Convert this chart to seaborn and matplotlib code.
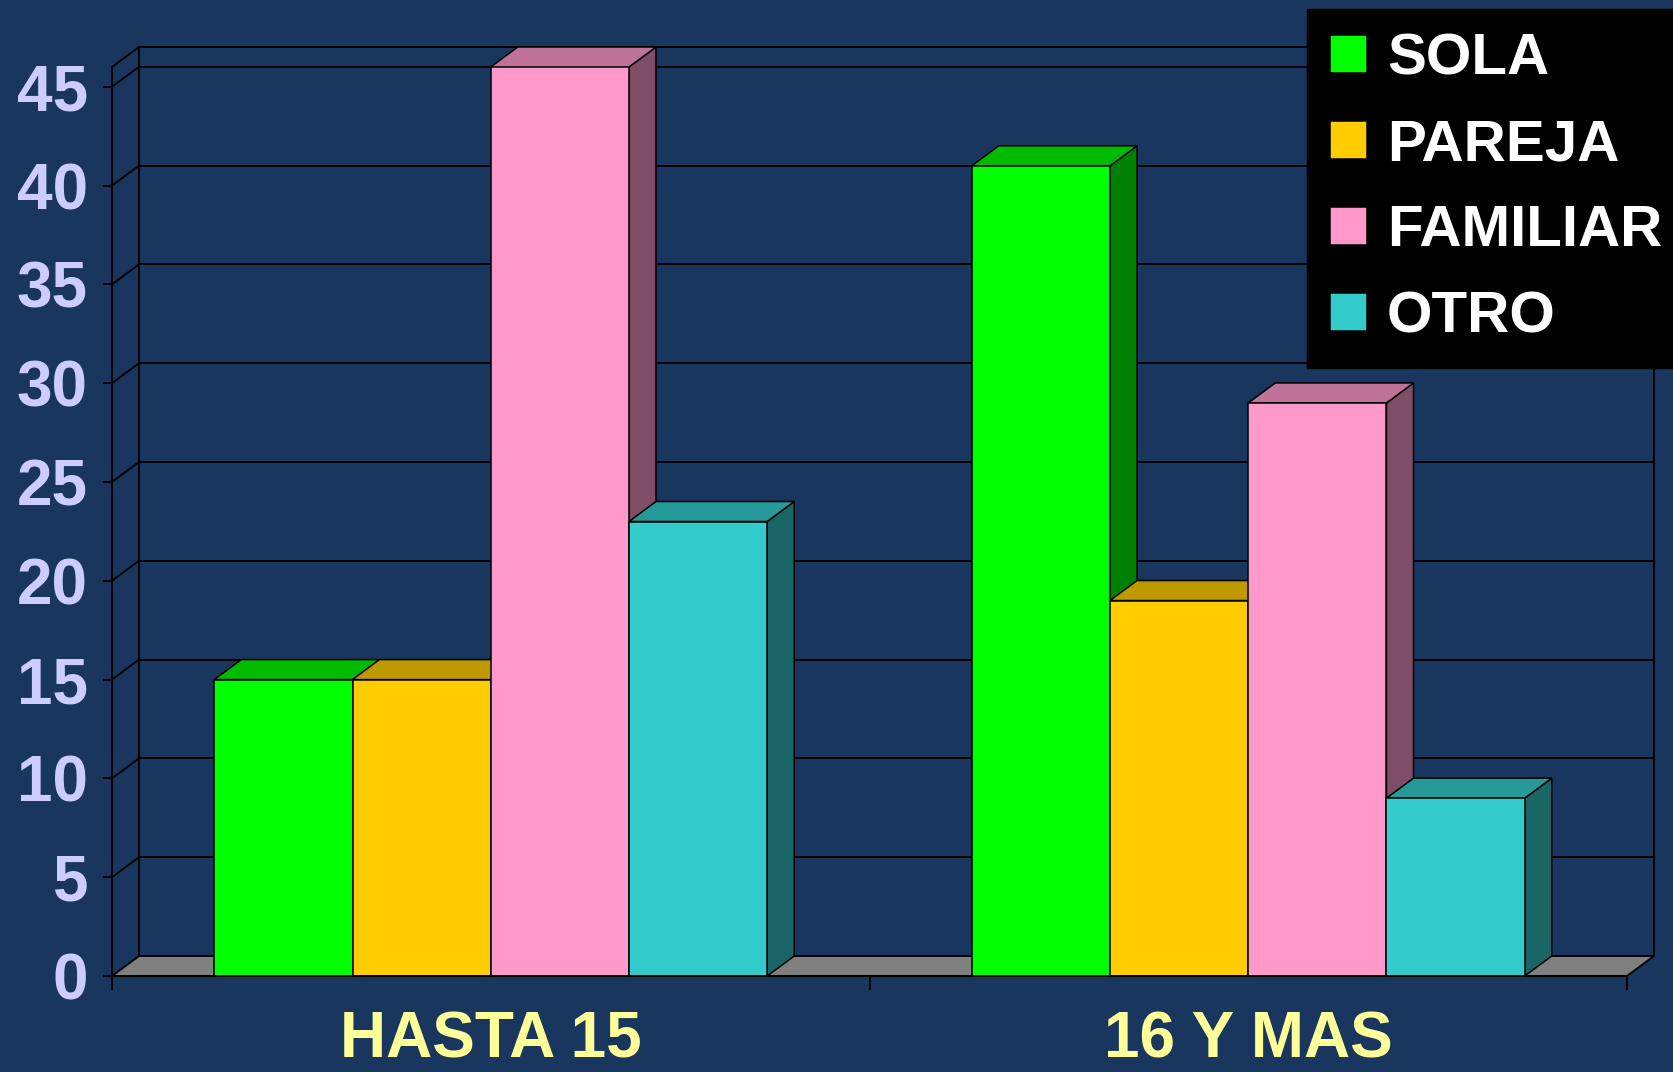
import pandas as pd
import matplotlib.pyplot as plt
from matplotlib.patches import Polygon
import seaborn as sns

# data
grupos = ["HASTA 15", "16 Y MAS"]
convivencia = ["SOLA", "PAREJA", "FAMILIAR", "OTRO"]
hasta_15 = [15, 15, 46, 23]
mas_16 = [41, 19, 29, 9]
y_ticks = [0, 5, 10, 15, 20, 25, 30, 35, 40, 45]

# colours: front face, top face, side face
frente = ["#00FF00", "#FFCC00", "#FF99CC", "#33CCCC"]
arriba = ["#00BB00", "#BF9900", "#BF7399", "#269999"]
lado = ["#008000", "#806600", "#804D66", "#1A6666"]
fondo = "#18365E"

df = pd.DataFrame({
    "grupo": [g for g in grupos for _ in convivencia],
    "convivencia": convivencia * len(grupos),
    "casos": hasta_15 + mas_16,
})

sns.set_theme(style="white", rc={"figure.facecolor": fondo, "axes.facecolor": fondo})
plt.rcParams["font.family"] = ["Liberation Sans", "DejaVu Sans"]

W, H = 1673, 1072
fig = plt.figure(figsize=(W / 100, H / 100), dpi=100)
# front plane of the 3d box
ax = fig.add_axes([112 / W, 96 / H, (1627 - 112) / W, (976 - 67) / H])
ax.patch.set_alpha(0)

sns.barplot(data=df, x="grupo", y="casos", hue="convivencia", order=grupos,
            hue_order=convivencia, palette=dict(zip(convivencia, frente)),
            width=0.73, saturation=1, edgecolor="black", linewidth=1.1, ax=ax)

ymax = 46
ax.set_xlim(-0.5, 1.5)
ax.set_ylim(0, ymax)

# depth offset of the 3d effect, in data units
DX_PX, DY_PX = 27, 20
dx = DX_PX / ((1627 - 112)) * 2.0
dy = DY_PX / ((976 - 67)) * ymax

lw = 1.4
x0, x1 = -0.5, 1.5
# back wall gridlines and left wall diagonals
for y in y_ticks[1:] + [ymax]:
    ax.plot([x0 + dx, x1 + dx], [y + dy, y + dy], color="black", lw=lw,
            clip_on=False, zorder=0.5, scalex=False, scaley=False)
    ax.plot([x0, x0 + dx], [y, y + dy], color="black", lw=lw,
            clip_on=False, zorder=0.5, scalex=False, scaley=False)
for xb in [x0 + dx, x1 + dx]:
    ax.plot([xb, xb], [dy, ymax + dy], color="black", lw=lw,
            clip_on=False, zorder=0.5, scalex=False, scaley=False)

# floor
ax.add_patch(Polygon([(x0, 0), (x1, 0), (x1 + dx, dy), (x0 + dx, dy)],
                     closed=True, facecolor="#808080", edgecolor="black",
                     lw=lw, clip_on=False, zorder=0.6))

# top and side faces of every bar
barras = []
for cont, top_c, side_c in zip(ax.containers, arriba, lado):
    for p in cont.patches:
        barras.append((p, top_c, side_c))
barras.sort(key=lambda b: b[0].get_x())
for i, (p, top_c, side_c) in enumerate(barras):
    bx, bw, bh = p.get_x(), p.get_width(), p.get_height()
    z = 2 + i * 0.1
    p.set_zorder(z + 0.05)
    ax.add_patch(Polygon([(bx + bw, 0), (bx + bw + dx, dy), (bx + bw + dx, bh + dy), (bx + bw, bh)],
                         closed=True, facecolor=side_c, edgecolor="black", lw=1.1,
                         clip_on=False, zorder=z))
    ax.add_patch(Polygon([(bx, bh), (bx + bw, bh), (bx + bw + dx, bh + dy), (bx + dx, bh + dy)],
                         closed=True, facecolor=top_c, edgecolor="black", lw=1.1,
                         clip_on=False, zorder=z))

# axes styling
for s in ["top", "right"]:
    ax.spines[s].set_visible(False)
for s in ["left", "bottom"]:
    ax.spines[s].set_color("black")
    ax.spines[s].set_linewidth(lw)
    ax.spines[s].set_zorder(3)

ax.set_yticks(y_ticks)
ax.tick_params(axis="y", direction="out", length=6.5, width=lw, color="black",
               pad=11, labelsize=46, labelcolor="#CCCCFF", left=True)
ax.set_xticks([-0.5, 0.5, 1.5], minor=True)
ax.tick_params(axis="x", which="minor", direction="out", length=10, width=lw,
               color="black", bottom=True)
ax.tick_params(axis="x", which="major", length=0, pad=24.5, labelsize=46,
               labelcolor="#FFFF99")
for t in ax.get_xticklabels() + ax.get_yticklabels():
    t.set_fontweight("bold")
ax.set_xlabel("")
ax.set_ylabel("")

sns.move_legend(ax, "upper left", bbox_to_anchor=(1307 / W, 1 - 9 / H),
                bbox_transform=fig.transFigure, title="", frameon=True,
                fancybox=False, framealpha=1, facecolor="black", edgecolor="black",
                labelcolor="white",
                prop=dict(family="Liberation Sans", weight="bold", size=42),
                handlelength=0.62, handleheight=0.62, handletextpad=0.35,
                labelspacing=0.55, borderpad=0.4, borderaxespad=0)

fig.savefig("out.png", dpi=100, facecolor=fondo)
